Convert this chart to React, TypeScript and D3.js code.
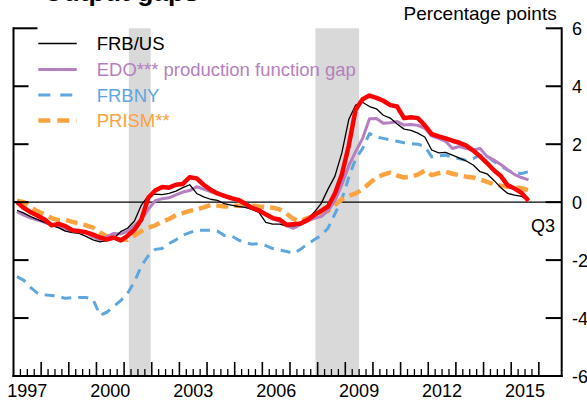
import React from "react";
import * as d3 from "d3";

// Quarterly data, 1997Q1 .. 2015Q3 (75 quarters)
const startYear = 1997;
const red = [
  0.0, -0.2, -0.35, -0.47, -0.6, -0.8, -0.75, -0.83, -0.97, -1.0, -1.04, -1.12,
  -1.22, -1.29, -1.22, -1.32, -1.16, -0.95, -0.6, 0.15, 0.4, 0.52, 0.5, 0.6,
  0.63, 0.86, 0.82, 0.6, 0.43, 0.3, 0.22, 0.14, 0.08, -0.05, -0.2, -0.28,
  -0.42, -0.55, -0.6, -0.78, -0.76, -0.74, -0.62, -0.45, -0.3, -0.15, 0.3, 0.95,
  1.95, 3.2, 3.55, 3.68, 3.6, 3.5, 3.35, 3.3, 2.9, 2.93, 2.9, 2.65,
  2.35, 2.27, 2.2, 2.12, 2.05, 1.95, 1.78, 1.58, 1.35, 1.1, 0.9, 0.58,
  0.47, 0.32, 0.05,
];
const frbus = [
  -0.28, -0.38, -0.5, -0.6, -0.7, -0.8, -0.88, -1.0, -1.05, -1.08, -1.18, -1.3,
  -1.37, -1.33, -1.25, -1.02, -0.9, -0.65, -0.1, 0.22, 0.28, 0.26, 0.3, 0.38,
  0.5, 0.6, 0.3, 0.18, 0.1, 0.06, -0.05, -0.1, -0.15, -0.18, -0.25, -0.35,
  -0.7, -0.76, -0.76, -0.82, -0.82, -0.78, -0.6, -0.35, -0.05, 0.45, 0.9, 1.7,
  2.85, 3.35, 3.45, 3.3, 3.22, 3.0, 2.9, 2.7, 2.52, 2.48, 2.38, 2.25,
  1.8, 1.7, 1.72, 1.62, 1.52, 1.42, 1.28, 1.05, 0.98, 0.75, 0.5, 0.3,
  0.24, 0.2, 0.07,
];
const edo = [
  -0.33, -0.45, -0.55, -0.62, -0.7, -0.76, -0.85, -0.97, -0.98, -0.97, -1.05, -1.2,
  -1.3, -1.2, -1.08, -1.1, -1.0, -0.8, -0.6, -0.25, 0.05, 0.12, 0.15, 0.25,
  0.35, 0.4, 0.53, 0.45, 0.36, 0.3, 0.2, 0.12, 0.05, -0.1, -0.2, -0.28,
  -0.45, -0.58, -0.65, -0.82, -0.9, -0.78, -0.65, -0.56, -0.5, -0.3, 0.05, 0.6,
  1.25, 1.75, 2.2, 2.88, 2.89, 2.72, 2.74, 2.78, 2.66, 2.68, 2.65, 2.55,
  2.28, 2.2, 2.1, 1.85, 1.92, 1.85, 1.8, 1.85, 1.58, 1.45, 1.3, 1.12,
  0.95, 0.85, 0.77,
];
const frbny = [
  -2.57, -2.7, -2.95, -3.15, -3.2, -3.22, -3.25, -3.32, -3.3, -3.29, -3.29, -3.35,
  -3.9, -3.8, -3.6, -3.4, -3.15, -2.75, -2.2, -1.85, -1.63, -1.6, -1.43, -1.3,
  -1.14, -1.05, -0.97, -0.97, -0.97, -1.0, -1.15, -1.16, -1.3, -1.4, -1.45, -1.43,
  -1.5, -1.6, -1.65, -1.7, -1.77, -1.63, -1.45, -1.3, -1.15, -0.9, -0.4, 0.1,
  0.85, 1.5, 1.85, 2.37, 2.25, 2.2, 2.15, 2.1, 2.05, 2.02, 2.0, 1.92,
  1.56, 1.6, 1.62, 1.56, 1.5, 1.45, 1.5, 1.62, 1.6, 1.4, 1.25, 1.1,
  1.0, 0.99, 1.05,
];
const prism = [
  0.05, 0.0, -0.18, -0.32, -0.42, -0.55, -0.62, -0.6, -0.68, -0.74, -0.8, -0.88,
  -1.05, -1.18, -1.22, -1.3, -1.3, -1.15, -1.0, -0.88, -0.8, -0.68, -0.58, -0.45,
  -0.38, -0.3, -0.25, -0.18, -0.1, -0.12, -0.15, -0.13, -0.12, -0.1, -0.12, -0.15,
  -0.17, -0.19, -0.25, -0.4, -0.58, -0.66, -0.55, -0.47, -0.4, -0.3, -0.1, 0.1,
  0.22, 0.3, 0.45, 0.65, 0.85, 0.95, 1.02, 0.92, 0.85, 0.88, 0.95, 1.1,
  0.93, 1.0, 1.05, 0.98, 0.93, 0.88, 0.85, 0.78, 0.7, 0.62, 0.57, 0.53,
  0.52, 0.48, 0.41,
];

const recessions: [number, number][] = [
  [2001.17, 2001.96],
  [2007.92, 2009.5],
];
const yearLabels = [1997, 2000, 2003, 2006, 2009, 2012, 2015];
const yTicks = [-6, -4, -2, 0, 2, 4, 6];
const legendLabels = ["FRB/US", "EDO*** production function gap", "FRBNY", "PRISM**"];

const FONT = "'Liberation Sans', Arial, sans-serif";
const L = 13.5, R = 561.7, T = 28.3, B = 376;

export default function App() {
  const x = d3.scaleLinear().domain([1997, 2016.8264]).range([L, R]);
  const y = d3.scaleLinear().domain([-6, 6]).range([B, T]);
  const t = (i: number) => startYear + i * 0.25 + 0.125;
  const line = d3
    .line<number>()
    .x((_, i) => x(t(i)))
    .y((d) => y(d));

  const series = [
    { data: frbny, color: "#5ea7de", w: 3, dash: "10,7" },
    { data: prism, color: "#fba33f", w: 4.5, dash: "12,6" },
    { data: edo, color: "#b57fc1", w: 3, dash: undefined },
    { data: frbus, color: "#000000", w: 1.3, dash: undefined },
    { data: red, color: "#ff0000", w: 4.5, dash: undefined },
  ];

  const legend = [
    { label: legendLabels[0], color: "#000000", text: "#000000", w: 1.3, dash: undefined, cy: 43.5 },
    { label: legendLabels[1], color: "#b57fc1", text: "#b57fc1", w: 3, dash: undefined, cy: 69.5 },
    { label: legendLabels[2], color: "#5ea7de", text: "#5ea7de", w: 3, dash: "12,10", cy: 95 },
    { label: legendLabels[3], color: "#fba33f", text: "#fba33f", w: 4.5, dash: "12,7", cy: 120.5 },
  ];

  const quarterTicks = d3.range(1997.25, 2016.01, 0.25);

  return (
    <svg
      width={587}
      height={403}
      style={{ position: "absolute", left: 0, top: 0, background: "#fff" }}
      fontFamily={FONT}
    >
      <rect x={0} y={0} width={587} height={403} fill="#fff" />
      {recessions.map(([a, b], i) => (
        <rect key={i} x={x(a)} y={T} width={x(b) - x(a)} height={B - T} fill="#d9d9d9" />
      ))}
      {/* title (cropped) */}
      <text x={43} y={1} fontSize={26.5} fontWeight="bold" fill="#000">
        Output gaps
      </text>
      <text x={556.7} y={20} fontSize={19} textAnchor="end" fill="#000">
        Percentage points
      </text>
      {/* zero line */}
      <line x1={L} x2={R} y1={y(0)} y2={y(0)} stroke="#000" strokeWidth={1.3} />
      {/* series */}
      {series.map((s, i) => (
        <path
          key={i}
          d={line(s.data) || ""}
          fill="none"
          stroke={s.color}
          strokeWidth={s.w}
          strokeDasharray={s.dash}
          strokeLinejoin="round"
        />
      ))}
      {/* axes frame */}
      <line x1={L} x2={L} y1={T - 1} y2={B + 1} stroke="#000" strokeWidth={2} />
      <line x1={R} x2={R} y1={T - 1} y2={B + 1} stroke="#000" strokeWidth={2} />
      <line x1={L - 1} x2={R + 1} y1={B} y2={B} stroke="#000" strokeWidth={2} />
      {yTicks.filter((v) => v > -6).map((v) => (
        <g key={v}>
          <line x1={L} x2={L + (v === 6 ? 24 : 15)} y1={y(v)} y2={y(v)} stroke="#000" strokeWidth={2} />
          <line x1={R - 16} x2={R} y1={y(v)} y2={y(v)} stroke="#000" strokeWidth={2} />
        </g>
      ))}
      {yTicks.map((v) => (
        <text key={v} x={572} y={y(v) + 6.5} fontSize={18} fill="#000">
          {String(v)}
        </text>
      ))}
      {quarterTicks.map((q, i) => {
        const isYear = Math.abs(q - Math.round(q)) < 1e-6;
        return (
          <line
            key={i}
            x1={x(q)}
            x2={x(q)}
            y1={B}
            y2={B - (isYear ? 14 : 7)}
            stroke="#000"
            strokeWidth={isYear ? 1.6 : 1.3}
          />
        );
      })}
      {yearLabels.map((yr) => (
        <text key={yr} x={x(yr + 0.5)} y={397} fontSize={18} textAnchor="middle" fill="#000">
          {String(yr)}
        </text>
      ))}
      <text x={555} y={231.5} fontSize={18} textAnchor="end" fill="#000">
        Q3
      </text>
      {/* legend */}
      {legend.map((l, i) => (
        <g key={i}>
          <line
            x1={38.3}
            x2={76.7}
            y1={l.cy}
            y2={l.cy}
            stroke={l.color}
            strokeWidth={l.w}
            strokeDasharray={l.dash}
          />
          <text x={96.7} y={l.cy + 6.6} fontSize={18.5} fill={l.text}>
            {l.label}
          </text>
        </g>
      ))}
    </svg>
  );
}
